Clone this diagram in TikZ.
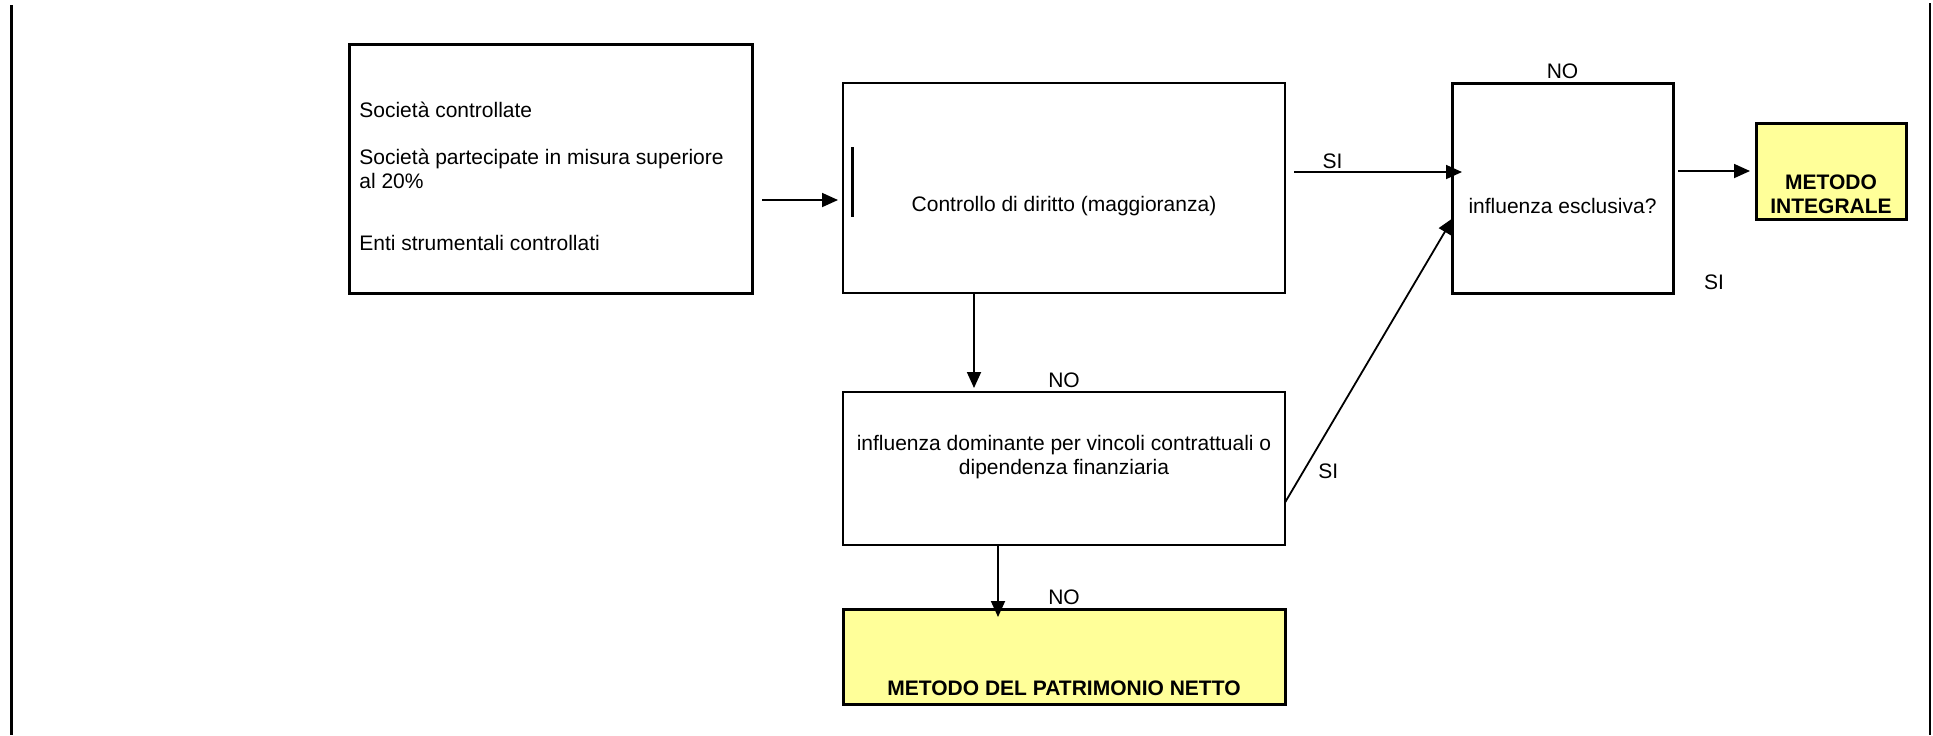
\documentclass[tikz,border=0pt]{standalone}
\usepackage{fontspec}
\setmainfont{Liberation Sans}
\usepackage{tikz}
\usetikzlibrary{arrows.meta}
\usetikzlibrary{positioning}
\definecolor{Giallo}{HTML}{FFFF99}

\begin{document}
\begin{tikzpicture}[x=0.5pt,y=-0.5pt,
    box/.style={draw, inner sep=0pt, outer sep=0pt, anchor=north west},
    thickbox/.style={box, line width=1.5pt},
    thinbox/.style={box, line width=1pt},
    metodo/.style={thickbox, fill=Giallo},
    txt/.style={font=\fontsize{10.5}{12}\selectfont, inner sep=0pt},
    boldtxt/.style={font=\fontsize{10.5}{12}\selectfont\bfseries, inner sep=0pt},
    lbl/.style={font=\fontsize{10.5}{12}\selectfont, inner sep=2pt},
    freccia/.style={-{Triangle[length=8pt,width=7pt]}, line width=0.9pt}]

          \useasboundingbox (0,0) rectangle (1933,735);
          \draw [line width=1.5pt] (11,5) -- (11,735);
          \draw [line width=1pt] (1930,3) -- (1930,735);

        %Box Enti
          \node [thickbox, minimum width=201.5pt, minimum height=124.5pt] (enti) at (349,44) {};
          \node [txt, align=left, anchor=base west] (entitxt) at (359,250) {Società controllate\\[11.5pt]
            Società partecipate in misura superiore\\al 20\%\\[19pt]
            Enti strumentali controllati};

        %Box Controllo
          \node [thinbox, minimum width=221pt, minimum height=105pt] (controllo) at (843,83) {};
          \draw [line width=1.5pt] ([xshift=4.5pt,yshift=20.5pt]controllo.west) -- ([xshift=4.5pt,yshift=-14.5pt]controllo.west);
          \node [txt] (controllotxt) at ([yshift=-9pt]controllo.center) {Controllo di diritto (maggioranza)};

        %Box Esclusiva
          \node [thickbox, minimum width=110.5pt, minimum height=105pt] (esclusiva) at (1452,83) {};
          \node [txt] (esclusivatxt) at ([yshift=-9pt]esclusiva.center) {influenza esclusiva?};
          \node [lbl, anchor=south] (noalto) at (esclusiva.north) {NO};
          \node [lbl] (sifuori) at ([xshift=20.5pt,yshift=5.5pt]esclusiva.south east) {SI};

          \node [metodo, minimum width=75pt, minimum height=48pt] (integrale) at (1756,123) {};
          \node [boldtxt, align=center] (integraletxt) at ([yshift=-11.5pt]integrale.center) {METODO\\INTEGRALE};

        %Box Dominante
          \node [thinbox, minimum width=221pt, minimum height=76.5pt] (dominante) at (843,392) {};
          \node [txt, align=center] (dominantetxt) at ([yshift=5.75pt]dominante.center) {influenza dominante per vincoli contrattuali o\\dipendenza finanziaria};
          \node [lbl, anchor=south] (nomedio) at (dominante.north) {NO};

          \node [metodo, minimum width=221pt, minimum height=47.5pt] (patrimonio) at (843,609) {};
          \node [boldtxt] (patrimoniotxt) at ([yshift=-15.75pt]patrimonio.center) {METODO DEL PATRIMONIO NETTO};
          \node [lbl, anchor=south] (nobasso) at (patrimonio.north) {NO};

        %Frecce
        \draw [freccia] ([xshift=5pt,yshift=-15.75pt]enti.east) -- ([xshift=-2.5pt,yshift=-6pt]controllo.west);
        \draw [freccia] ([xshift=4.5pt,yshift=8pt]controllo.east) -- node [lbl, above, inner sep=1pt, pos=.23] (sisopra) {SI} ([xshift=5pt,yshift=8pt]esclusiva.west);
        \draw [freccia] ([xshift=2.5pt,yshift=8.5pt]esclusiva.east) -- ([xshift=-3pt]integrale.west);

        \draw [freccia] ([xshift=-45pt]controllo.south) -- ([xshift=-45pt,yshift=2pt]dominante.north);
        \draw [freccia] ([xshift=-33pt]dominante.south) -- ([xshift=-33pt,yshift=-4pt]patrimonio.north);
        \draw [freccia] ([yshift=-17pt]dominante.east) -- node [lbl, pos=.11, right, xshift=5pt] (sidiag) {SI} ([xshift=0.5pt,yshift=-15pt]esclusiva.west);
        \end{tikzpicture}
\end{document}
